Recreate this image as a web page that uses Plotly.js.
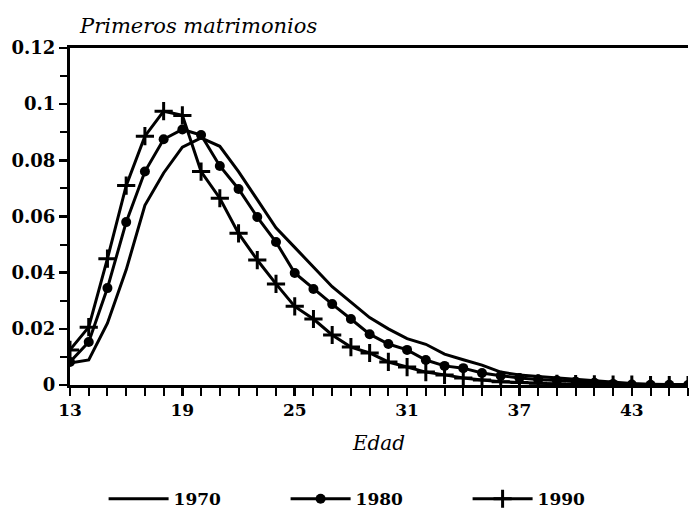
<!DOCTYPE html>
<html>
<head>
<meta charset="utf-8">
<script src="https://cdn.plot.ly/plotly-3.0.1.min.js"></script>
<style>html,body{margin:0;padding:0;background:#fff;}#chart{width:691px;height:520px;}</style>
</head>
<body>
<div id="chart"></div>
<script>
const ages = [13,14,15,16,17,18,19,20,21,22,23,24,25,26,27,28,29,30,31,32,33,34,35,36,37,38,39,40,41,42,43,44,45,46];
const s1970 = [0.0078,0.0089,0.022,0.041,0.064,0.0755,0.0847,0.088,0.085,0.076,0.066,0.056,0.049,0.042,0.035,0.0295,0.024,0.02,0.0165,0.0145,0.011,0.009,0.0071,0.0046,0.0036,0.003,0.0025,0.002,0.0015,0.001,0.0005,0.0003,0.0002,0.0001];
const s1980 = [0.0082,0.0153,0.0345,0.058,0.076,0.0875,0.091,0.089,0.078,0.0698,0.0598,0.0509,0.0399,0.0342,0.0288,0.0235,0.0181,0.0146,0.0125,0.0089,0.0068,0.006,0.0043,0.0033,0.0025,0.002,0.0016,0.0012,0.0008,0.0004,0.0002,0.0001,0.0001,0.0];
const s1990 = [0.0125,0.0206,0.045,0.071,0.0886,0.0975,0.096,0.076,0.0665,0.054,0.0445,0.036,0.028,0.0235,0.0178,0.0135,0.0114,0.0082,0.0064,0.0046,0.0036,0.0025,0.0018,0.0012,0.0009,0.0006,0.0004,0.0003,0.0002,0.0001,0.0001,0.0,0.0,0.0];
const seriesNames = ['1970','1980','1990'];
const xTickVals = [13,19,25,31,37,43];
const yTickVals = [0,0.02,0.04,0.06,0.08,0.1,0.12];
const yTickText = ['0','0.02','0.04','0.06','0.08','0.1','0.12'];

const serif = 'DejaVu Serif, Liberation Serif, serif';
const traces = [
  {x: ages, y: s1970, name: seriesNames[0], mode: 'lines', line: {color: '#000', width: 3}},
  {x: ages, y: s1980, name: seriesNames[1], mode: 'lines+markers', line: {color: '#000', width: 3},
   marker: {symbol: 'circle', size: 10, color: '#000'}},
  {x: ages, y: s1990, name: seriesNames[2], mode: 'lines+markers', line: {color: '#000', width: 3},
   marker: {symbol: 'cross-thin', size: 13, color: '#000', line: {color: '#000', width: 3}}}
];
const layout = {
  width: 691, height: 520,
  margin: {l: 70, r: 3, t: 48, b: 135, autoexpand: false},
  paper_bgcolor: '#fff', plot_bgcolor: '#fff',
  showlegend: true,
  legend: {orientation: 'h', x: 0.545, xanchor: 'center', xref: 'container', yref: 'container', y: 0.04, yanchor: 'middle',
           font: {family: serif, size: 17, color: '#000', weight: 'bold'}, itemwidth: 60, tracegroupgap: 0,
           entrywidth: 107},
  xaxis: {range: [13, 46], tickvals: xTickVals, ticks: 'outside', ticklen: 8, tickwidth: 2.5, tickcolor: '#000',
          showline: true, linecolor: '#000', linewidth: 3, mirror: true, showgrid: false, zeroline: false,
          tickfont: {family: serif, size: 17, color: '#000', weight: 'bold'},
          minor: {dtick: 1, tick0: 13, ticks: 'outside', ticklen: 8, tickwidth: 2, tickcolor: '#000', showgrid: false},
          title: {text: 'Edad', font: {family: serif, size: 20, color: '#000', style: 'italic'}, standoff: 17}},
  yaxis: {range: [0, 0.12], tickvals: yTickVals, ticktext: yTickText, ticks: 'outside', ticklen: 8, tickwidth: 2.5, tickcolor: '#000',
          showline: true, linecolor: '#000', linewidth: 3, showgrid: false, zeroline: false,
          tickfont: {family: serif, size: 18, color: '#000', weight: 'bold'},
          minor: {dtick: 0.01, tick0: 0, ticks: 'outside', ticklen: 7, tickwidth: 2, tickcolor: '#000', showgrid: false}},
  annotations: [
    {text: 'Primeros matrimonios', xref: 'paper', yref: 'paper', x: 0.012, y: 1.025, xanchor: 'left', yanchor: 'bottom',
     showarrow: false, font: {family: serif, size: 21, color: '#000', style: 'italic'}}
  ]
};
Plotly.newPlot('chart', traces, layout, {displayModeBar: false, staticPlot: true});
</script>
</body>
</html>
